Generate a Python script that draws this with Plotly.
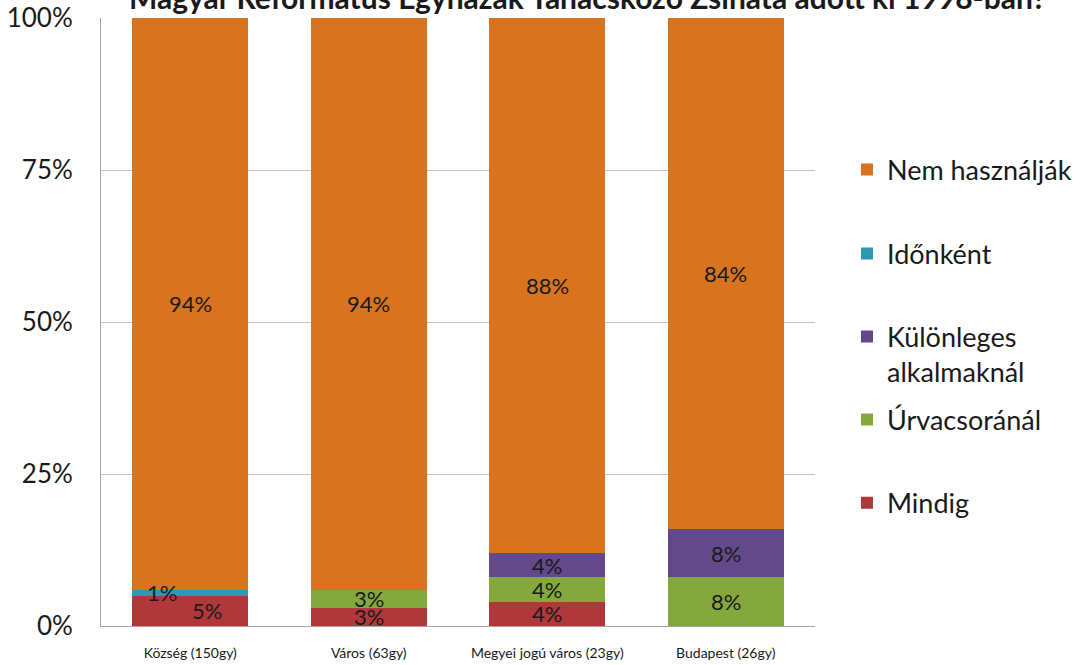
import plotly.graph_objects as go

categories = ["Község (150gy)", "Város (63gy)", "Megyei jogú város (23gy)", "Budapest (26gy)"]
series_names = ["Mindig", "Úrvacsoránál", "Különleges<br>alkalmaknál", "Időnként", "Nem használják"]
mindig = [5, 3, 4, 0]
urvacsora = [0, 3, 4, 8]
kulonleges = [0, 0, 4, 8]
idonkent = [1, 0, 0, 0]
nem_hasznaljak = [94, 94, 88, 84]
y_ticks = [0, 0.25, 0.5, 0.75, 1.0]
y_ticktext = ["0%", "25%", "50%", "75%", "100%"]
title_text = "Magyar Református Egyházak Tanácskozó Zsinata adott ki 1998-ban?"

series_values = [mindig, urvacsora, kulonleges, idonkent, nem_hasznaljak]
colors = ["#B0383A", "#84A83B", "#63498A", "#2E98B5", "#D8741F"]
legend_ids = ["legend5", "legend4", "legend3", "legend2", "legend"]
legend_y = [0.202, 0.339, 0.4465, 0.612, 0.75]

FONT = "Lato, Carlito, Calibri, sans-serif"
TXT = "#1a1a1a"

fig = go.Figure()
for name, vals, col, lid in zip(series_names, series_values, colors, legend_ids):
    fig.add_trace(go.Bar(
        x=categories, y=[v / 100 for v in vals], name=name,
        marker=dict(color=col, line=dict(width=0)),
        legend=lid, hoverinfo="skip", showlegend=True,
    ))

# data labels
annotations = []
cum = [0] * len(categories)
label_shift = {(0, 0): 17, (3, 0): -28}
for si, vals in enumerate(series_values):
    for ci, v in enumerate(vals):
        if v > 0:
            mid = (cum[ci] + v / 2) / 100
            annotations.append(dict(
                x=categories[ci], y=mid, xref="x", yref="y",
                text=f"{v}%", showarrow=False,
                xshift=label_shift.get((si, ci), 0),
                font=dict(family=FONT, size=22, color=TXT),
            ))
        cum[ci] += v

annotations.append(dict(
    x=(587 - 101) / 714, y=1.0, xref="paper", yref="paper", xanchor="center", yanchor="bottom",
    yshift=1, text=f"<b>{title_text}</b>", showarrow=False,
    font=dict(family=FONT, size=30, color=TXT),
))

layout_legends = {}
for lid, ly in zip(legend_ids, legend_y):
    layout_legends[lid] = dict(
        x=1.0448, y=ly, xanchor="left", yanchor="middle", xref="paper", yref="paper",
        font=dict(family=FONT, size=27, color=TXT), valign="top",
        bgcolor="rgba(0,0,0,0)", itemclick=False, itemdoubleclick=False, visible=True,
    )

fig.update_layout(
    width=1080, height=665,
    barmode="stack", bargap=0.35,
    plot_bgcolor="white", paper_bgcolor="white",
    margin=dict(l=101, r=265, t=18, b=39, autoexpand=False),
    font=dict(family=FONT, color=TXT),
    annotations=annotations,
    showlegend=True,
    **layout_legends,
)
fig.update_yaxes(
    range=[0, 1], tickvals=y_ticks, ticktext=y_ticktext,
    showgrid=True, gridcolor="#C4C4C4", gridwidth=1,
    showline=True, linecolor="#A6A6A6", linewidth=1,
    zeroline=False, ticks="", ticklabelstandoff=22,
    tickfont=dict(family=FONT, size=26, color=TXT),
)
fig.update_xaxes(
    showline=True, linecolor="#A6A6A6", linewidth=1, ticks="", ticklabelstandoff=14,
    tickfont=dict(family=FONT, size=14, color=TXT),
)

fig.write_html(
    "out.html",
    config={"displayModeBar": False},
    post_script="document.body.style.margin='0';document.body.style.overflow='hidden';",
)
